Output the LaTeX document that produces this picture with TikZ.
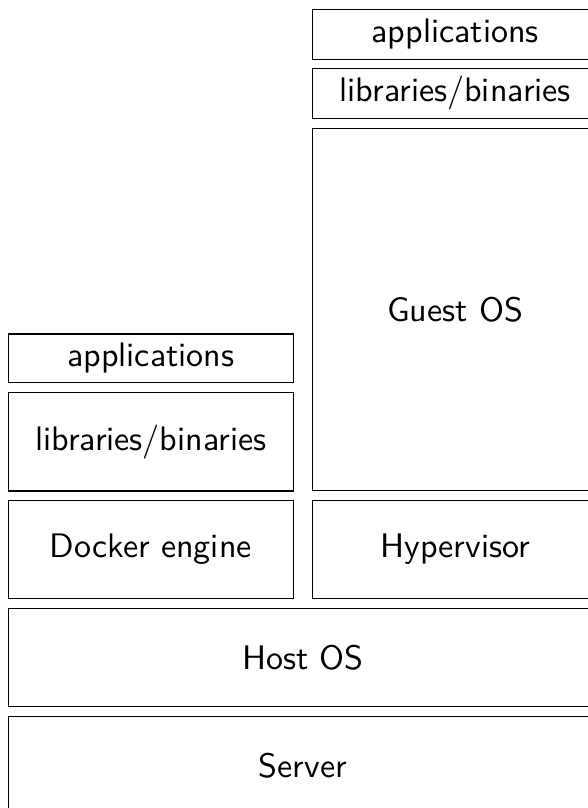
\documentclass[tikz,border=0pt]{standalone}
\usepackage{fontspec}
\newfontfamily\layerfont{lmsans10-regular.otf}
\begin{document}
\begin{tikzpicture}[x=0.5pt,y=-0.5pt,
  layer/.style={draw=black, line width=0.6pt, inner sep=0pt, outer sep=0pt,
    font=\fontsize{17}{20}\selectfont\layerfont, text=black},
  colw/.style={minimum width=142.5pt},
  fullw/.style={minimum width=294.7pt}]
\useasboundingbox (0,0) rectangle (588,808);
\clip (0,0) rectangle (588,808);
\node[layer, colw, minimum height=25pt]    (rapps)  at (455.2,34.3)  {applications};
\node[layer, colw, minimum height=24.85pt] (rlibs)  at (455.2,93.3)  {libraries/binaries};
\node[layer, colw, minimum height=181.2pt] (guest)  at (455.2,309.5) {Guest OS};
\node[layer, colw, minimum height=24.15pt] (lapps)  at (150.8,358.2) {applications};
\node[layer, colw, minimum height=49.15pt] (llibs)  at (150.8,441.85) {libraries/binaries};
\node[layer, colw, minimum height=48.8pt]  (docker) at (150.8,549.5) {Docker engine};
\node[layer, colw, minimum height=48.8pt]  (hyper)  at (455.2,549.5) {Hypervisor};
\node[layer, fullw, minimum height=49pt]   (host)   at (303,657.7)   {Host OS};
\node[layer, fullw, minimum height=49pt]   (server) at (303,765.7)   {Server};
\end{tikzpicture}
\end{document}
